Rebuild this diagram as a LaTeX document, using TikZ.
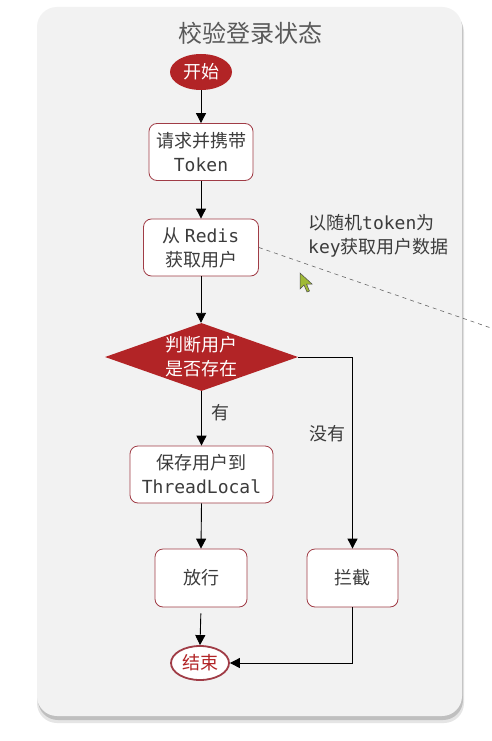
\documentclass[tikz,border=0pt]{standalone}
\usepackage{fontspec}
\setmainfont{Noto Sans CJK SC}
\newfontfamily\mono{DejaVu Sans Mono}
\usetikzlibrary{arrows.meta,shapes.geometric}
\definecolor{panel}{RGB}{242,242,242}
\definecolor{dred}{RGB}{178,36,38}
\definecolor{bred}{RGB}{160,60,70}
\definecolor{txt}{RGB}{60,60,60}
\tikzset{
  box/.style={draw=bred, line width=0.8pt, fill=white, rounded corners=8pt, inner sep=0pt,
    align=center, font=\fontsize{18}{24}\selectfont, text=txt},
  conn/.style={draw=black, line width=0.9pt, -{Triangle[length=10pt,width=10pt]}},
  lbl/.style={font=\fontsize{18}{24}\selectfont, text=txt},
}
\begin{document}
\begin{tikzpicture}[x=1pt,y=-1pt]
\useasboundingbox (0,0) rectangle (491,741);
\fill[white] (0,0) rectangle (491,741);
% panel shadow
\fill[black!10, rounded corners=20pt] (37,12) rectangle (464,723);
\fill[black!25, rounded corners=20pt] (38,10) rectangle (463,720);
\fill[panel, rounded corners=20pt] (37,7) rectangle (462,716);
% title
\node[font=\fontsize{24}{28}\selectfont, text=black!65] (title) at (250,33) {校验登录状态};
% nodes
\node[ellipse, fill=dred, minimum width=62pt, minimum height=36pt, inner sep=0pt,
  text=white, font=\fontsize{18}{22}\selectfont] (start) at (201,72) {开始};
\node[box, minimum width=104pt, minimum height=57pt] (b1) at (201,152) {请求并携带\\{\mono Token}};
\node[box, minimum width=115pt, minimum height=57pt] (b2) at (201,247.5) {从 {\mono Redis}\\获取用户};
\node[diamond, fill=dred, minimum width=193pt, minimum height=68pt, inner sep=0pt] (dec) at (201.5,357) {};
\node[align=center, text=white, font=\fontsize{18}{24}\selectfont] (dectext) at (dec.center) {判断用户\\是否存在};
\node[box, minimum width=143pt, minimum height=57pt] (b3) at (201.5,474.5) {保存用户到\\{\mono ThreadLocal}};
\node[box, minimum width=92pt, minimum height=58pt] (b4) at (201,578) {放行};
\node[box, minimum width=91pt, minimum height=58pt] (b5) at (352.5,578) {拦截};
\node[ellipse, draw=bred, line width=1.8pt, fill=white, minimum width=58pt, minimum height=34pt,
  inner sep=0pt, text=dred, font=\fontsize{18}{22}\selectfont] (end) at (200,663) {结束};
% note
\node[lbl, align=left, anchor=north west, inner sep=0pt] (note) at (308,214)
  {以随机{\mono token}为\\{\mono key}获取用户数据};
\coordinate (dashend) at (491,328);
\draw[black!60, line width=0.6pt, dash pattern=on 4pt off 4pt] (b2.east) -- (dashend);
% connectors
\draw[conn] (start.south) -- (b1.north);
\draw[conn] (b1.south) -- (b2.north);
\draw[conn] (b2.south) -- (b2.south |- dec.north);
\draw[conn] (dec.south) -- node[lbl, right=6pt, pos=0.4] (yes) {有} (b3.north);
\draw[conn] (dec.east) -| node[lbl, left=3pt, pos=0.70] (no) {没有} (b5.north);
\draw[conn] (b3.south) -- (b4.north);
\draw[conn, shorten <=6pt] (b4.south) -- (end.north);
\draw[conn] (b5.south) |- (end.east);
% cursor
\filldraw[fill=yellow!70!green!80!black, draw=black!70, line width=0.5pt]
  (300,273) -- (300,289) -- (304,285) -- (307,292) -- (309.5,291) -- (306.5,284) -- (312,284) -- cycle;
\end{tikzpicture}
\end{document}
